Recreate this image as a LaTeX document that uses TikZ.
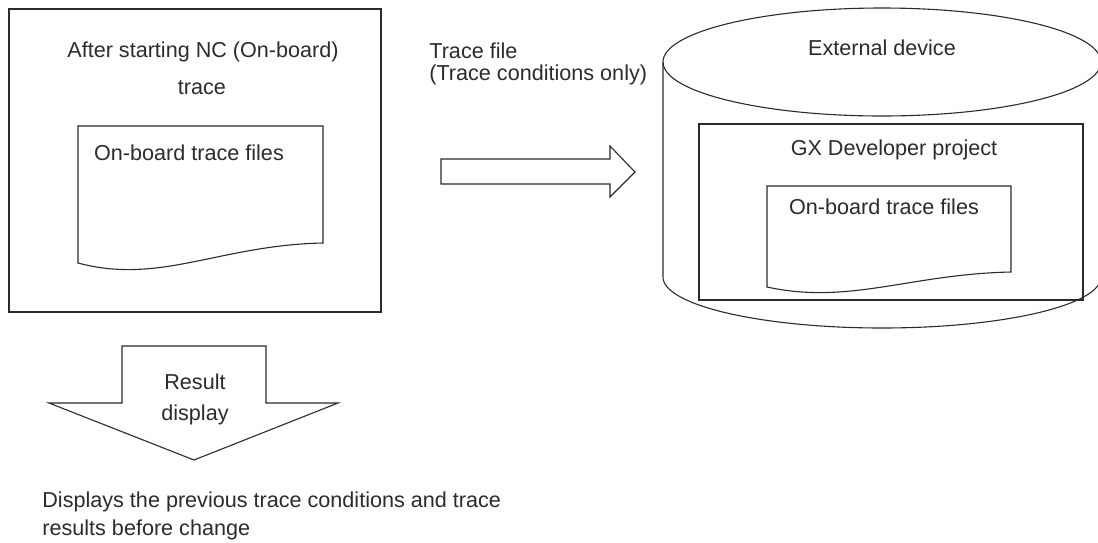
\documentclass[tikz,border=0pt]{standalone}
\usepackage{fontspec}
\setmainfont{Liberation Sans}
\usetikzlibrary{positioning}
\definecolor{inkgray}{HTML}{2B2B2B}
\newcommand{\lblfont}{\fontsize{10.8}{13}\selectfont}
\tikzset{
  frame/.style={draw=inkgray, line width=0.6pt},
  docpage/.style={draw=inkgray, line width=0.55pt, fill=white},
  blockarrow/.style={draw=inkgray, line width=0.55pt, fill=white, line join=miter},
  device/.style={draw=inkgray, line width=0.55pt},
  lbl/.style={inner sep=0pt, text=inkgray, font=\lblfont},
  lblw/.style={lbl, anchor=west}
}
\begin{document}
\begin{tikzpicture}[x=0.5pt, y=-0.5pt]
  \useasboundingbox (0,0) rectangle (1098,542);
  \clip (0,0) rectangle (1098,542);
  % on-board side
  \draw[frame] (9,9) rectangle (381,312);
  \node[lbl] (after) at (203,52) {After starting NC (On-board)};
  \node[lbl] (trace) at (202,88) {trace};
  \draw[docpage] (78,263) -- (78,126) -- (323,126) -- (323,243)
    .. controls (220,245) and (160,285) .. (78,263) -- cycle;
  \node[lbl] (leftfiles) at (189,153) {On-board trace files};
  % transfer arrow
  \node[lblw] (tracefile) at (429,51) {Trace file};
  \node[lblw] (condonly) at (429,75) {(Trace conditions only)};
  \draw[blockarrow] (441,159) -- (610,159) -- (610,146) -- (635,172)
    -- (610,197) -- (610,184) -- (441,184) -- cycle;
  % external device
  \draw[device] (663,62) -- (663,277) arc[start angle=180, end angle=360, x radius=219, y radius=-51];
  \draw[device] (882,62) ellipse[x radius=219, y radius=54];
  \node[lbl] (extdev) at (882,48) {External device};
  \draw[frame] (699,124) rectangle (1083,300);
  \node[lbl] (gxproj) at (894,150) {GX Developer project};
  \draw[docpage] (767,287) -- (767,186) -- (1011,186) -- (1011,272)
    .. controls (911,274) and (849,305) .. (767,287) -- cycle;
  \node[lbl] (rightfiles) at (884,207) {On-board trace files};
  % result display
  \draw[blockarrow] (122,346) -- (266,346) -- (266,403) -- (338,403)
    -- (194,460) -- (49,403) -- (122,403) -- cycle;
  \node[lbl] (result) at (195,382) {Result};
  \node[lbl] (display) at (195,415) {display};
  \node[lblw] (displays) at (42,502) {Displays the previous trace conditions and trace};
  \node[lblw] (before) at (42,530) {results before change};
\end{tikzpicture}
\end{document}
